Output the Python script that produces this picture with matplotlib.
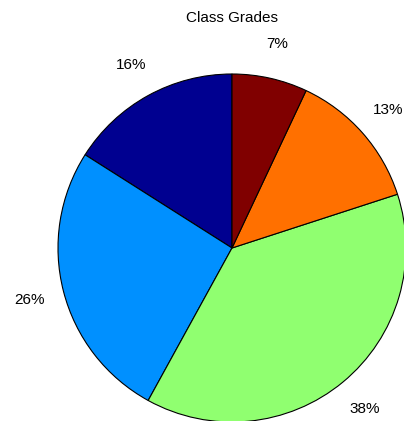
import matplotlib
matplotlib.use("Agg")
import matplotlib.pyplot as plt

grades = ["A", "B", "C", "D", "F"]
shares = [16, 26, 38, 13, 7]
colors = ["#000090", "#0090ff", "#90ff70", "#ff7000", "#800000"]
title = "Class Grades"

plt.rcParams['font.family'] = ['Liberation Sans', 'DejaVu Sans']

W, H = 404, 421
fig = plt.figure(figsize=(W / 100, H / 100), dpi=100)
ax = fig.add_axes([0, 0, 1, 1])
cx, cy, r = 232, H - 248, 174
wedges, texts, autotexts = ax.pie(
    shares, colors=colors, startangle=90, counterclock=True,
    center=(cx, cy), radius=r, autopct=lambda p: f"{p:.0f}%",
    pctdistance=1.2, wedgeprops=dict(edgecolor="black", linewidth=0.8),
    textprops=dict(fontsize=11, color="black"))
ax.set_xlim(0, W)
ax.set_ylim(0, H)
ax.set_aspect("equal")
ax.axis("off")
ax.text(232, H - 18, title, ha="center", va="center", fontsize=11)
fig.savefig("out.png", dpi=100)
